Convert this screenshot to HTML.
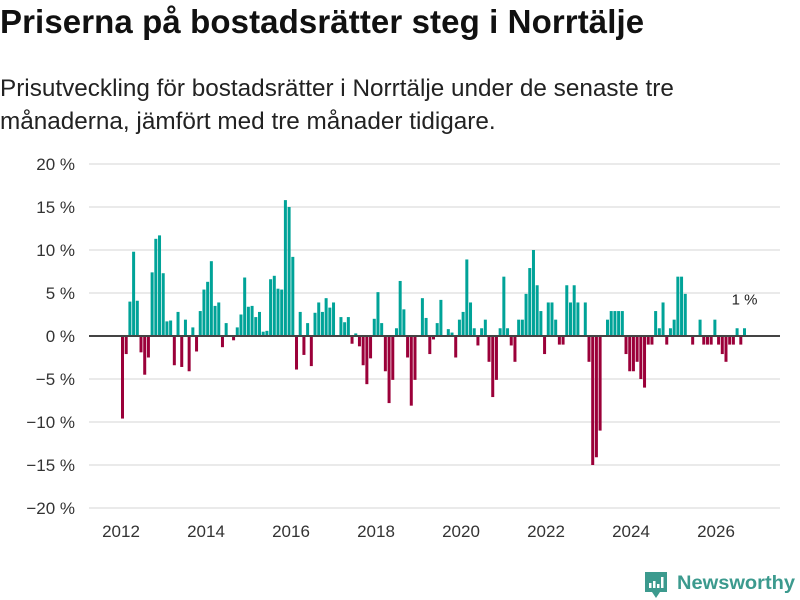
<!DOCTYPE html>
<html><head><meta charset="utf-8">
<style>
body{margin:0;width:800px;height:600px;background:#fff;overflow:hidden;font-family:"Liberation Sans",sans-serif;color:#111}
#title{position:absolute;left:0;top:3px;font-size:33px;font-weight:bold;margin:0;letter-spacing:0.1px}
#sub{position:absolute;left:0;top:72px;font-size:24.3px;line-height:33px;color:#222;width:700px}
svg{position:absolute;left:0;top:0}
</style></head><body>
<h1 id="title">Priserna på bostadsrätter steg i Norrtälje</h1>
<div id="sub">Prisutveckling för bostadsrätter i Norrtälje under de senaste tre månaderna, jämfört med tre månader tidigare.</div>
<svg id="chart" width="800" height="600"></svg>
<script>
const values = [
-9.6,-2.1,4.0,9.8,4.1,-1.9,-4.5,-2.5,7.4,11.3,11.7,7.3,1.7,1.8,-3.4,2.8,-3.6,1.9,-4.1,1.0,-1.8,2.9,5.4,6.3,8.7,3.5,3.9,-1.3,
1.5,0,-0.5,1.0,2.5,6.8,3.4,3.5,2.2,2.8,0.5,0.6,6.6,7.0,5.5,5.4,15.8,15.0,9.2,-3.9,2.8,-2.2,1.5,-3.5,2.7,3.9,2.8,4.4,3.3,
3.9,0,2.2,1.6,2.2,-0.9,0.3,-1.2,-3.4,-5.6,-2.6,2.0,5.1,1.5,-4.1,-7.8,-5.1,0.9,6.4,3.1,-2.5,-8.1,-5.1,0,4.4,2.1,-2.1,-0.4,
1.5,4.2,0.1,0.8,0.4,-2.5,1.9,2.8,8.9,3.9,0.9,-1.1,0.9,1.9,-3.0,-7.1,-5.1,0.9,6.9,0.9,-1.1,-3.0,1.9,1.9,4.9,7.9,10.0,5.9,
2.9,-2.1,3.9,3.9,1.9,-1.0,-1.0,5.9,3.9,5.9,3.9,0,3.9,-3.0,-15.0,-14.1,-11.0,0,1.9,2.9,2.9,2.9,2.9,-2.1,-4.1,-4.1,-3.0,-5.0,-6.0,
-1.0,-1.0,2.9,0.9,3.9,-1.0,0.9,1.9,6.9,6.9,4.9,0,-1.0,0,1.9,-1.0,-1.0,-1.0,1.9,-1.0,-2.1,-3.0,-1.0,-1.0,0.9,-1.0,0.9
];
const yTicks = [20,15,10,5,0,-5,-10,-15,-20];
const yTickLabels = ["20 %","15 %","10 %","5 %","0 %","−5 %","−10 %","−15 %","−20 %"];
const xTickYears = [2012,2014,2016,2018,2020,2022,2024,2026];
const lastLabel = "1 %";

const NS="http://www.w3.org/2000/svg";
const svg=document.getElementById('chart');
function y(v){return 336 - v*8.6;}
function xi(i){return 122.5 + i*(622/(values.length-1));}
function xYear(yr){return 121 + (yr-2012)*42.5;}
function mk(t,a){const e=document.createElementNS(NS,t);for(const k in a)e.setAttribute(k,a[k]);svg.appendChild(e);return e;}

yTicks.forEach((t,k)=>{
  const g=mk('line',{x1:89,x2:780,y1:y(t),y2:y(t),stroke:'#e3e3e3','stroke-width':1.5});
  
  
  const l=mk('text',{x:75,y:y(t)+6,'text-anchor':'end','font-size':17,fill:'#333','font-family':'Liberation Sans, sans-serif'});
  l.textContent=yTickLabels[k];
  
  
});
xTickYears.forEach(yr=>{
  const l=mk('text',{x:xYear(yr),y:537,'text-anchor':'middle','font-size':17,fill:'#333','font-family':'Liberation Sans, sans-serif'});
  l.textContent=yr;
  
  
});
values.forEach((v,i)=>{
  if(v===0)return;
  const top=Math.min(y(v),y(0)), h=Math.abs(y(v)-y(0));
  const r=mk('rect',{x:xi(i)-1.5,y:top,width:3,height:h,fill:v>0?'#00a398':'#9b0039'});
  
  
});
const z=mk('line',{x1:89,x2:780,y1:y(0),y2:y(0),stroke:'#444','stroke-width':2});


const ll=mk('text',{x:xi(values.length-1),y:y(values[values.length-1])-24,'text-anchor':'middle','font-size':15,fill:'#222','font-family':'Liberation Sans, sans-serif'});
ll.textContent=lastLabel;



const g=document.createElementNS(NS,'g');


svg.appendChild(g);
g.innerHTML='<path d="M645 572 h22 v20 h-7 l-4 6 l-4 -6 h-7 z" fill="#3c9a8e"/>'+
 '<rect x="649" y="583" width="2.5" height="5" fill="#fff"/><rect x="653" y="581" width="2.5" height="7" fill="#fff"/><rect x="657" y="584" width="2.5" height="4" fill="#fff"/><rect x="661" y="577" width="2.5" height="11" fill="#fff"/>'+
 '<text x="677" y="589" font-size="19.5" font-weight="bold" fill="#3c9a8e" font-family="Liberation Sans, sans-serif" textLength="118" lengthAdjust="spacingAndGlyphs">Newsworthy</text>';
</script>
</body></html>
